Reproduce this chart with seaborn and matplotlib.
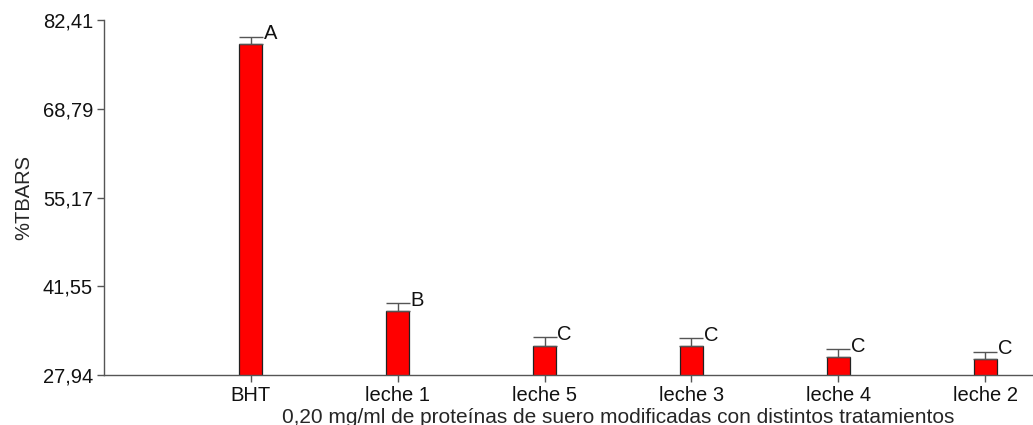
import matplotlib
matplotlib.use("Agg")
import matplotlib.pyplot as plt
import seaborn as sns
import pandas as pd

categorias = ["BHT", "leche 1", "leche 5", "leche 3", "leche 4", "leche 2"]
tbars = [78.68, 37.81, 32.39, 32.39, 30.75, 30.35]
error = [1.17, 1.18, 1.33, 1.18, 1.13, 1.17]
letras = ["A", "B", "C", "C", "C", "C"]
yticks = [27.94, 41.55, 55.17, 68.79, 82.41]

df = pd.DataFrame({"trat": categorias, "tbars": tbars, "err": error})

sns.set_style("white")
plt.rcParams["font.family"] = ["Liberation Sans", "DejaVu Sans"]
plt.rcParams["font.size"] = 14

fig = plt.figure(figsize=(10.33, 4.25), dpi=100)
# axes run past the right edge of the picture, like the original crop
ax = fig.add_axes([104 / 1033, 50 / 425, 1028 / 1033, 355 / 425])

ancho = 0.157
sns.barplot(data=df, x="trat", y="tbars", order=categorias, color="#ff0000",
            width=ancho, edgecolor="#222222", linewidth=0.9, saturation=1,
            errorbar=None, ax=ax)
for b in ax.patches:
    b.set_facecolor("#ff0000")

pos = list(range(len(categorias)))
ax.errorbar(pos, tbars, yerr=[[0] * len(error), error], fmt="none",
            ecolor="#555555", elinewidth=1.0, capsize=8.3, capthick=1.0)

for i, (v, e, l) in enumerate(zip(tbars, error, letras)):
    ax.annotate(l, xy=(i + ancho / 2, v + e), xytext=(1, -2),
                textcoords="offset points", ha="left", va="baseline",
                fontsize=14.5, color="#111111")

ax.set_xlim(-1, 6)
ax.set_ylim(yticks[0], yticks[-1])
ax.set_yticks(yticks)
ax.set_yticklabels([f"{t:.2f}".replace(".", ",") for t in yticks])

ax.set_xlabel("0,20 mg/ml de proteínas de suero modificadas con distintos tratamientos",
              fontsize=15, labelpad=2)
ax.set_ylabel("%TBARS", fontsize=14.5, labelpad=7)

for s in ["top", "right"]:
    ax.spines[s].set_visible(False)
for s in ["left", "bottom"]:
    ax.spines[s].set_color("#555555")
    ax.spines[s].set_linewidth(1.0)
ax.tick_params(axis="both", direction="out", length=5, width=1,
               color="#555555", labelsize=14.5, labelcolor="#111111", pad=3,
               left=True, bottom=True)

fig.savefig("out.png", dpi=100)
